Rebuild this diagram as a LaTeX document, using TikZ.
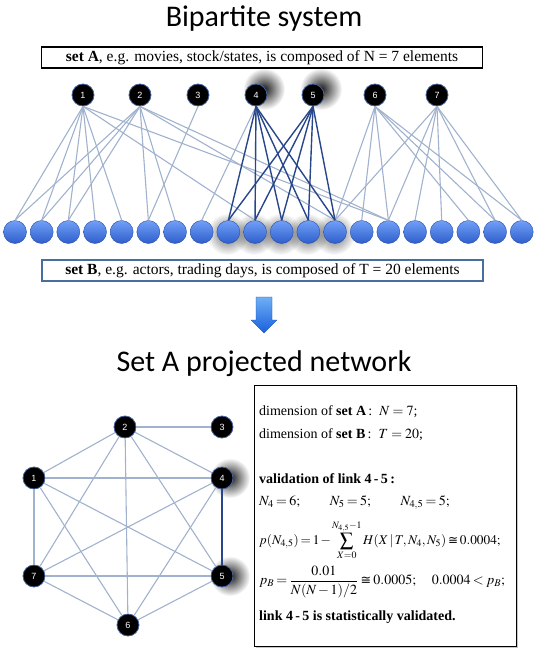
\documentclass[tikz,border=0pt]{standalone}
\usepackage{amsmath}
\usepackage{mathptmx}
\usepackage{fontspec}
\setmainfont{Liberation Serif}
\newfontfamily\titlefont{Carlito}
\newfontfamily\labelfont{Liberation Sans}
\newfontfamily\symfont[Scale=0.9]{DejaVu Sans}
\usetikzlibrary{shadows,fadings,backgrounds}

\definecolor{edgelight}{RGB}{160,178,206}
\definecolor{edgedark}{RGB}{40,70,138}
\definecolor{ballblue}{RGB}{52,104,224}
\definecolor{balltop}{RGB}{112,160,248}
\definecolor{boxblue}{RGB}{72,110,158}
\definecolor{arrowtop}{RGB}{110,175,245}
\definecolor{arrowbot}{RGB}{25,95,220}

\newcommand\tightmu{\medmuskip=2mu\relax\thickmuskip=3mu\relax}
\newcommand\tightermu{\medmuskip=1.5mu\relax\thickmuskip=2.5mu\relax}
\newcommand\approxto{\mathrel{\text{\symfont ≅}}}

\tikzfading[name=glowfade, inner color=transparent!0, outer color=transparent!100]

\tikzset{
  anode/.style={circle, fill=black, draw={rgb,255:red,70;green,100;blue,160}, line width=0.8pt,
    minimum size=22pt, inner sep=0pt, text=white, font=\labelfont\fontsize{9}{9}\selectfont},
  bnode/.style={circle, top color=balltop, bottom color=ballblue!90!black, draw=ballblue!75!black,
    line width=0.4pt, minimum size=23pt, inner sep=0pt},
  lightedge/.style={draw=edgelight, line width=1.1pt},
  darkedge/.style={draw=edgedark, line width=1.4pt},
  glow/.style={fill=black, path fading=glowfade, fill opacity=#1},
  glow/.default=0.9,
  setbox/.style={draw, line width=1.3pt, minimum width=441pt, minimum height=21pt, inner sep=0pt,
    font=\fontsize{15.5}{15.5}\selectfont},
  headline/.style={anchor=base, font=\titlefont\fontsize{30}{30}\selectfont},
  infoline/.style={anchor=west, inner sep=0pt, font=\fontsize{14}{16}\selectfont},
}

\begin{document}
\begin{tikzpicture}[x=1pt,y=-1pt]
\useasboundingbox (0,0) rectangle (537,653);

% titles and set boxes
\node[headline] (titleA) at (264,27) {Bipartite system};
\node[setbox] (boxA) at (262,57.5) {\textbf{set A}, e.g. movies, stock/states, is composed of N = 7 elements};
\node[setbox, draw=boxblue] (boxB) at (262.5,270.5) {\textbf{set B}, e.g. actors, trading days, is composed of T = 20 elements};
\node[headline] (titleB) at (264,371) {Set A projected network};

% down arrow
\shade[top color=arrowtop, bottom color=arrowbot, draw=arrowbot!80!black, line width=0.3pt]
  (256,297) -- (272,297) -- (272,320) -- (277,320) -- (264,333) -- (251,320) -- (256,320) -- cycle;

% set B
\foreach \i in {1,...,20}
  \node[bnode] (b\i) at ({15+(\i-1)*26.67},232) {};

% set A
\node[anode] (t1) at (83,95) {1};
\node[anode] (t2) at (140,95) {2};
\node[anode] (t3) at (198,95) {3};
\node[anode] (t4) at (256,95) {4};
\node[anode] (t5) at (313,95) {5};
\node[anode] (t6) at (375,95) {6};
\node[anode] (t7) at (437,95) {7};

% bipartite links
\foreach \a/\blist in {1/{1,2,3,4,5,10,15}, 2/{1,2,3,6,7,13,15}, 3/{6}, 4/{8},
    6/{13,14,15,18,19,20}, 7/{13,15,16,17,19,20}}
  \foreach \b in \blist
    \draw[lightedge] (t\a.south) -- (b\b.north);
\foreach \a in {4,5}
  \foreach \b in {9,...,13}
    \draw[darkedge] (t\a.south) -- (b\b.north);

% projected network
\node[anode] (p1) at (34,478) {1};
\node[anode] (p2) at (125,427) {2};
\node[anode] (p3) at (222,427) {3};
\node[anode] (p4) at (222,478) {4};
\node[anode] (p5) at (222,576) {5};
\node[anode] (p6) at (128,625) {6};
\node[anode] (p7) at (34,576) {7};

\foreach \u/\v in {2/3, 2/1, 2/4, 2/7, 2/6, 2/5, 1/4, 1/5, 1/6, 1/7,
    4/7, 4/6, 7/5, 7/6, 5/6}
  \draw[lightedge] (p\u) -- (p\v);
\draw[darkedge] (p4) -- (p5);

% shadows behind the validated pair
\begin{scope}[on background layer]
  \foreach \n in {t4,t5}
    \fill[glow] ([shift={(8,-6)}]\n.center) circle (21pt);
  \foreach \n in {p4,p5}
    \fill[glow] ([shift={(8,0)}]\n.center) circle (20pt);
  \foreach \i in {9,...,13}
    \fill[glow=0.6] ([shift={(-1,2)}]b\i.center) circle (21pt);
\end{scope}

% validation box
\node[draw, line width=1.5pt, fill=white, minimum width=262pt, minimum height=261pt,
  drop shadow={shadow xshift=1.5pt, shadow yshift=-1.5pt, opacity=0.45}] (info) at (385.5,516) {};
\node[infoline] (l1) at (259,412) {dimension of \textbf{set A}\,:\ \ $N=7$;};
\node[infoline] (l2) at (259,435) {dimension of \textbf{set B}\,:\ \ $T=20$;};
\node[infoline] (l3) at (259,479) {\textbf{validation of link 4\,-\,5\,:}};
\node[infoline] (l4) at (259,503) {\tightmu$N_4=6;\qquad N_5=5;\qquad N_{4,5}=5;$};
\node[infoline, font=\fontsize{13.3}{16}\selectfont] (l5) at (259,540)
  {\tightermu$\displaystyle p(N_{4,5})=1-\sum_{X=0}^{N_{4,5}-1}H(X\,|\,T,N_4,N_5)\approxto 0.0004;$};
\node[infoline] (l6) at (259,582) {\tightmu$\displaystyle p_B=\frac{0.01}{N(N-1)/2}\approxto 0.0005;\quad 0.0004<p_B;$};
\node[infoline] (l7) at (259,617) {\textbf{link 4\,-\,5 is statistically validated.}};
\end{tikzpicture}
\end{document}
